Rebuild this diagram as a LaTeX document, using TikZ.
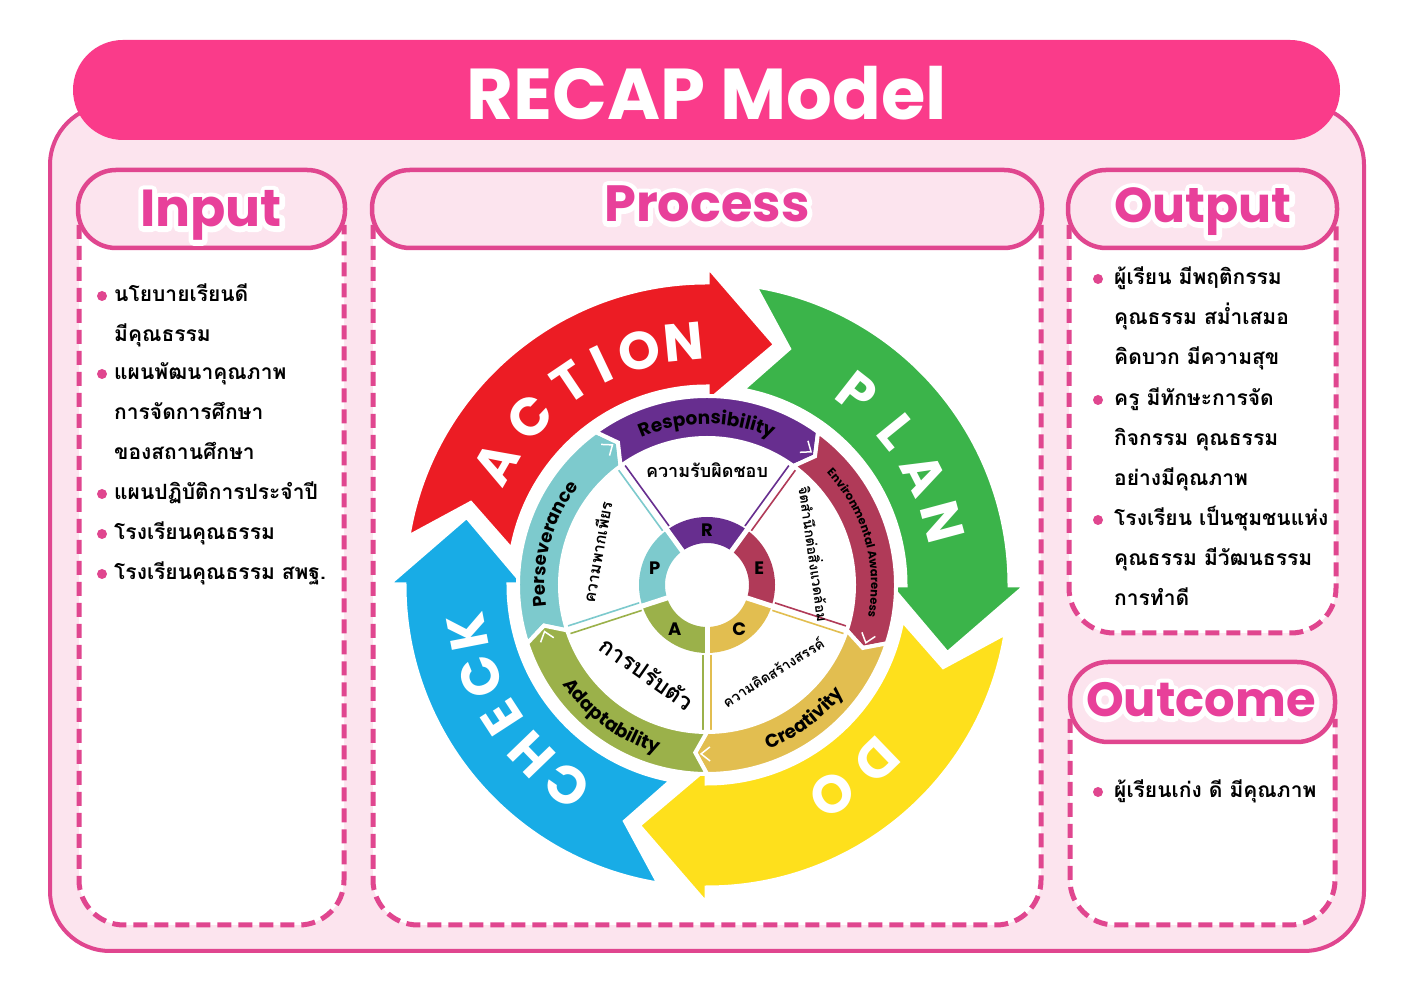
\documentclass[tikz,border=0pt]{standalone}
\usepackage{fontspec}
\setmainfont{Poppins}
\newfontfamily\thaifont[Script=Thai]{Loma}
\usetikzlibrary{calc,decorations.text}

\definecolor{titlepink}{HTML}{FA3B8A}
\definecolor{linepink}{HTML}{E0468F}
\definecolor{softpink}{HTML}{FCE4EE}
\definecolor{headpink}{HTML}{E8409A}
\definecolor{actred}{HTML}{EC1C24}
\definecolor{plangreen}{HTML}{3BB44A}
\definecolor{doyellow}{HTML}{FEE01C}
\definecolor{checkblue}{HTML}{18ACE6}
\definecolor{rpurple}{HTML}{672E8F}
\definecolor{emaroon}{HTML}{B03A58}
\definecolor{cmustard}{HTML}{E2BE50}
\definecolor{aolive}{HTML}{9BB14A}
\definecolor{pteal}{HTML}{7DCACD}

\begin{document}
\begin{tikzpicture}[x=1pt, y=1pt,
  headbox/.style={draw=linepink, line width=4.5, fill=softpink, rounded corners=38},
  bodybox/.style={draw=linepink, line width=5, fill=white, dash pattern=on 14pt off 7pt, rounded corners=45},
  headtxt/.style={text=headpink, anchor=base, inner sep=0},
  item/.style={font=\thaifont\bfseries\fontsize{21}{21}\selectfont, anchor=base west, inner sep=0},
  dot/.style={circle, fill=linepink, minimum size=10, inner sep=0},
  pdca/.style={font=\bfseries\fontsize{53}{53}\selectfont, text=white, inner sep=0},
  ringltr/.style={font=\bfseries\fontsize{18}{18}\selectfont, inner sep=0},
  secttxt/.style={inner sep=0}]

\useasboundingbox (0,0) rectangle (1414,987);
\fill[white] (0,0) rectangle (1414,987);

% frame and title bar
\draw[linepink, line width=4, fill=softpink, rounded corners=60] (50,36) rectangle (1364,882);
\fill[titlepink, rounded corners=50] (73,847) rectangle (1340,947);
\node[font=\bfseries\fontsize{72}{72}\selectfont, text=white, anchor=base] (title) at (707,867) {RECAP Model};

% column bodies
\path[bodybox] (79,762) -- (79,62) -- (344,62) -- (344,762);
\path[bodybox] (373,762) -- (373,62) -- (1041,62) -- (1041,762);
\path[bodybox] (1069,762) -- (1069,354) -- (1336,354) -- (1336,762);
\path[bodybox] (1070,268) -- (1070,62) -- (1335,62) -- (1335,268);

% column heads, white outline drawn as stroked text
\draw[headbox] (78,739) rectangle (345,817);
\draw[headbox] (372,739) rectangle (1042,817);
\draw[headbox] (1068,739) rectangle (1337,817);
\draw[headbox] (1070,245) rectangle (1335,325);
\foreach \hx/\hy/\hs/\hname in {211/760/52/Input, 707/765/51/Process, 1203/764/49/Output, 1201/270/48/Outcome}{
  \node[headtxt, text=white, font=\bfseries\fontsize{\hs}{\hs}\selectfont] at (\hx,\hy)
    {\special{pdf:literal direct 1 Tr 10 w 1 j}\hname\special{pdf:literal direct 0 Tr}};
  \node[headtxt, font=\bfseries\fontsize{\hs}{\hs}\selectfont] (head-\hname) at (\hx,\hy) {\hname};
}

% input list
\foreach \y in {691,613,493,453,413}
  \node[dot] at (102,\y) {};
\node[item] (in1) at (114,685) {นโยบายเรียนดี};
\node[item] (in1b) at (114,645) {มีคุณธรรม};
\node[item] (in2) at (114,607) {แผนพัฒนาคุณภาพ};
\node[item] (in2b) at (114,567) {การจัดการศึกษา};
\node[item] (in2c) at (114,527) {ของสถานศึกษา};
\node[item] (in3) at (114,487) {แผนปฏิบัติการประจำปี};
\node[item] (in4) at (114,447) {โรงเรียนคุณธรรม};
\node[item] (in5) at (114,407) {โรงเรียนคุณธรรม สพฐ.};

% output list
\foreach \y in {708,587,467}
  \node[dot] at (1098,\y) {};
\node[item] (out1) at (1114,702) {ผู้เรียน มีพฤติกรรม};
\node[item] (out1b) at (1114,662) {คุณธรรม สม่ำเสมอ};
\node[item] (out1c) at (1114,622) {คิดบวก มีความสุข};
\node[item] (out2) at (1114,581) {ครู มีทักษะการจัด};
\node[item] (out2b) at (1114,541) {กิจกรรม คุณธรรม};
\node[item] (out2c) at (1114,501) {อย่างมีคุณภาพ};
\node[item] (out3) at (1114,461) {โรงเรียน เป็นชุมชนแห่ง};
\node[item] (out3b) at (1114,421) {คุณธรรม มีวัฒนธรรม};
\node[item] (out3c) at (1114,381) {การทำดี};

% outcome
\node[dot] at (1098,195) {};
\node[item] (oc1) at (1114,189) {ผู้เรียนเก่ง ดี มีคุณภาพ};

% RECAP wheel
\begin{scope}[shift={(707,402)}]
  % PDCA ring
  \foreach \col/\s/\i/\n/\t/\b in {actred/171/170/161/74/90, plangreen/81/80/71/-16/0,
      doyellow/-9/-10/-19/-106/-90, checkblue/-99/-100/-109/-196/-180}
    \filldraw[fill=\col, draw=white, line width=5]
      (\s:303) arc[start angle=\s, end angle=\b, radius=303] -- (\b:320) -- (\t:250)
      -- (\b:182) -- (\b:198) arc[start angle=\b, end angle=\i, radius=198] -- (\n:250) -- cycle;
  \foreach \a/\ch in {150/A, 136.5/C, 124/T, 115.5/I, 106/O, 95.5/N, 52/P, 39/L, 27/A, 15/N,
      -46/D, -59/O, 235/C, 224/H, 213/E, 202/C, 191/K}
    \node[pdca, rotate=\a-90] at (\a:244) {\ch};

  % inner ring and spokes
  \foreach \col/\s/\e in {pteal/198/126, rpurple/126/54, emaroon/54/-18, cmustard/-18/-90, aolive/-90/-162}{
    \fill[\col] (\s:68) arc[start angle=\s, end angle=\e, radius=68] -- (\e:42)
      arc[start angle=\e, end angle=\s, radius=42] -- cycle;
    \draw[\col, line width=1.6] ($(\s:70)+(\s-90:4)$) -- ($(\s:149)+(\s-90:4)$);
    \draw[\col, line width=1.6] ($(\e:70)+(\e+90:4)$) -- ($(\e:149)+(\e+90:4)$);
  }
  \foreach \b in {198,126,54,-18,-90}
    \draw[white, line width=5] (\b:38) -- (\b:71);

  % value band
  \foreach \col/\s/\e/\sn/\en in {pteal/198/126/194/122, rpurple/126/54/122/50, emaroon/54/-18/50/-22,
      cmustard/-18/-90/-22/-94, aolive/-90/-162/-94/-166}
    \filldraw[fill=\col, draw=white, line width=4]
      (\s:189) arc[start angle=\s, end angle=\e, radius=189] -- (\en:168) -- (\e:147)
      arc[start angle=\e, end angle=\s, radius=147] -- (\sn:168) -- cycle;
  \foreach \b in {198,126,54,-18,-90}
    \draw[white, line width=1.5] (\b+1:176) -- (\b-2:169) -- (\b+1:162);

  \path[decorate, decoration={text along path, text align=center,
      text={|\bfseries\fontsize{18.5}{18.5}\selectfont|Responsibility}}]
    (140:161) arc[start angle=140, end angle=40, radius=161];
  \path[decorate, decoration={text along path, text align=center,
      text={|\bfseries\fontsize{11.5}{11.5}\selectfont|Environmental Awareness}}]
    (68:164) arc[start angle=68, end angle=-36, radius=164];
  \path[decorate, decoration={text along path, text align=center,
      text={|\bfseries\fontsize{18}{18}\selectfont|Perseverance}}]
    (215:162) arc[start angle=215, end angle=115, radius=162];
  \path[decorate, decoration={text along path, text align=center,
      text={|\bfseries\fontsize{18.5}{18.5}\selectfont|Creativity}}]
    (-104:175) arc[start angle=-104, end angle=-4, radius=175];
  \path[decorate, decoration={text along path, text align=center,
      text={|\bfseries\fontsize{18.5}{18.5}\selectfont|Adaptability}}]
    (-176:175) arc[start angle=-176, end angle=-76, radius=175];

  \node[ringltr] (R) at (90:55) {R};
  \node[ringltr] (E) at (18:55) {E};
  \node[ringltr] (C) at (-54:55) {C};
  \node[ringltr] (A) at (-126:55) {A};
  \node[ringltr] (P) at (162:55) {P};

  \node[secttxt] (r-th) at (0,115) {\thaifont\bfseries\fontsize{18}{18}\selectfont ความรับผิดชอบ};
  \node[secttxt, rotate=-82] (e-th) at (108,31) {\thaifont\bfseries\fontsize{14}{14}\selectfont จิตสำนึกต่อสิ่งแวดล้อม};
  \node[secttxt, rotate=32] (c-th) at (66,-87) {\thaifont\bfseries\fontsize{14}{14}\selectfont ความคิดสร้างสรรค์};
  \node[secttxt, rotate=-35] (a-th) at (-60,-88) {\thaifont\bfseries\fontsize{23}{23}\selectfont การปรับตัว};
  \node[secttxt, rotate=80] (p-th) at (-110,33) {\thaifont\bfseries\fontsize{16}{16}\selectfont ความพากเพียร};
\end{scope}
\end{tikzpicture}
\end{document}
